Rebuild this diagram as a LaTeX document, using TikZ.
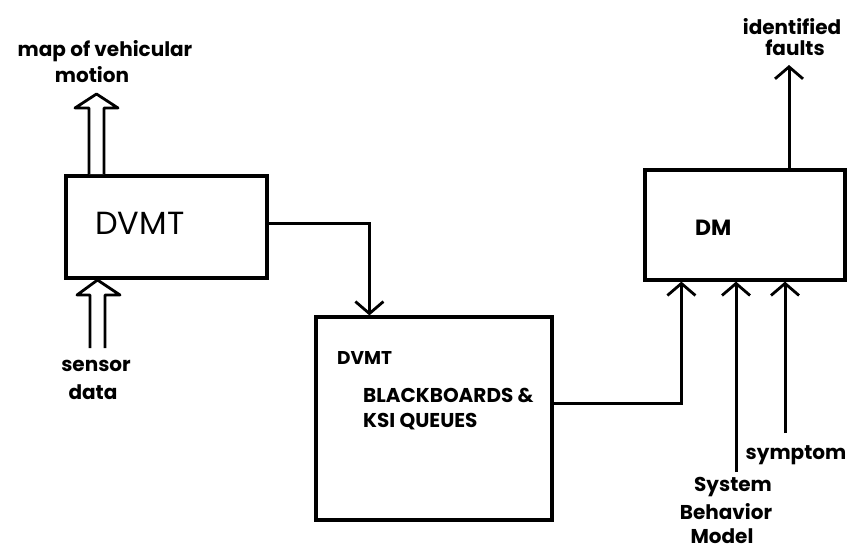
\documentclass[tikz,border=0pt]{standalone}
\usepackage{fontspec}
\setmainfont{Poppins}
\usetikzlibrary{arrows.meta,calc}
\begin{document}
\begin{tikzpicture}[x=1pt,y=-1pt,
  box/.style={draw,line width=3.2pt,inner sep=0pt},
  conn/.style={line width=3pt,-{Straight Barb[length=12pt,width=28pt,line width=2.8pt]}},
  hollow/.style={draw,line width=2.8pt,line join=round,fill=white},
  lbl/.style={inner sep=0pt,font=\fontsize{20}{20}\selectfont\bfseries},
  caps/.style={inner sep=0pt,anchor=west,font=\fontsize{20}{20}\selectfont\bfseries}]
\useasboundingbox (0,0) rectangle (848,551);
% boxes
\node[box,minimum width=201pt,minimum height=102pt] (dvmt) at (166.5,227) {};
\node[box,minimum width=236pt,minimum height=203pt] (bb) at (434,418.5) {};
\node[box,minimum width=200pt,minimum height=110pt] (dm) at (745,225) {};
% box texts
\node[inner sep=0pt,anchor=west,font=\fontsize{32}{32}\selectfont] (dvmtt) at (95,223) {DVMT};
\node[inner sep=0pt,anchor=west,font=\fontsize{22}{22}\selectfont\bfseries] (dmt) at (695,228) {DM};
\node[caps,font=\fontsize{18.5}{18.5}\selectfont\bfseries] (bbt1) at (337,358) {DVMT};
\node[caps] (bbt2) at (363,395) {BLACKBOARDS \&};
\node[caps] (bbt3) at (363,422) {KSI QUEUES};
% labels
\node[lbl] (map1) at (105,51) {map of vehicular};
\node[lbl] (map2) at (92,75) {motion};
\node[lbl] (sen1) at (96,366) {sensor};
\node[lbl] (sen2) at (93,392) {data};
\node[lbl] (id1) at (792,27) {identified};
\node[lbl] (id2) at (795,48) {faults};
\node[lbl] (sym) at (796,455) {symptom};
\node[lbl] (sb1) at (733,487) {System};
\node[lbl] (sb2) at (726,512) {Behavior};
\node[lbl] (sb3) at (722,536) {Model};
% hollow arrows
\draw[hollow] (89,174) -- (89,108) -- (75,108) -- (96.5,94) -- (118,108) -- (104,108) -- (104,174);
\draw[hollow] (90,348) -- (90,295) -- (77,295) -- (97.5,280) -- (120,295) -- (105,295) -- (105,348);
% connectors
\draw[conn] ([yshift=4pt]dvmt.east) -| ([xshift=55pt]bb.north west);
\draw[conn] ([yshift=15.5pt]bb.east) -| ([xshift=38pt]dm.south west);
\coordinate (sbmEnd) at (736,472);
\coordinate (symEnd) at (785,433);
\coordinate (faultTip) at (789,65);
\draw[conn] (sbmEnd) -- (sbmEnd |- dm.south);
\draw[conn] (symEnd) -- (symEnd |- dm.south);
\draw[conn] (faultTip |- dm.north) -- (faultTip);
\end{tikzpicture}
\end{document}
